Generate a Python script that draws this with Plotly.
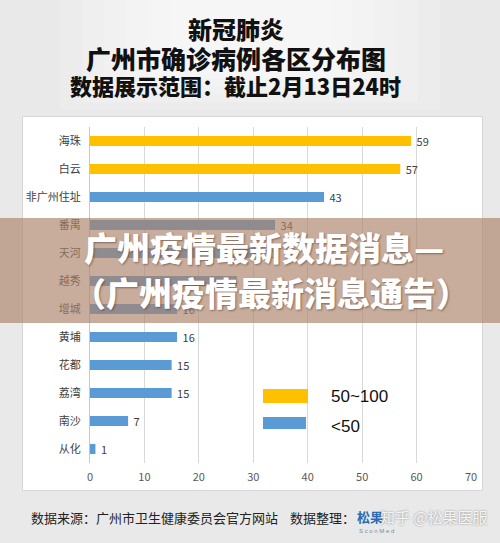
import plotly.graph_objects as go

categories = ["海珠", "白云", "非广州住址", "番禺", "天河", "越秀", "增城", "黄埔", "花都", "荔湾", "南沙", "从化"]
cases = [59, 57, 43, 34, 31, 27, 16, 16, 15, 15, 7, 1]
x_ticks = [0, 10, 20, 30, 40, 50, 60, 70]
legend_labels = ["50~100", "<50"]

YELLOW = "#ffc000"
BLUE = "#5b9bd5"
colors = [YELLOW if v >= 50 else BLUE for v in cases]

W, H = 500, 543
L, R, T, B = 90, 29, 127, 80
PW = W - L - R
PH = H - T - B


def px(xp):
    return (xp - L) / PW


def py(yp):
    return (H - B - yp) / PH


CJK = "Noto Sans CJK SC"

fig = go.Figure()
fig.add_trace(go.Bar(
    x=cases, y=categories, orientation="h",
    marker=dict(color=colors, line=dict(width=0)),
    text=["\u00a0" + str(v) for v in cases],
    textposition="outside",
    constraintext="none",
    textfont=dict(family=CJK, size=11, color="#404040"),
    cliponaxis=False,
    hoverinfo="skip",
))

shapes = []
# soft lighter area behind title
for i in range(6):
    shapes.append(dict(type="rect", xref="paper", yref="paper", layer="below",
                       x0=px(60 + i * 22), x1=px(440 - i * 22), y0=py(110 - i * 8), y1=py(0),
                       fillcolor="white", opacity=0.16, line=dict(width=0)))
# white chart panel
shapes.append(dict(type="rect", xref="paper", yref="paper", layer="below",
                   x0=px(22.5), x1=px(482.5), y0=py(490.5), y1=py(116.5),
                   fillcolor="white", line=dict(color="#d6d6d6", width=1)))
# legend swatches
shapes.append(dict(type="rect", xref="paper", yref="paper", layer="above",
                   x0=px(263), x1=px(308), y0=py(403), y1=py(389),
                   fillcolor=YELLOW, line=dict(width=0)))
shapes.append(dict(type="rect", xref="paper", yref="paper", layer="above",
                   x0=px(263), x1=px(306), y0=py(429), y1=py(417),
                   fillcolor=BLUE, line=dict(width=0)))
# translucent overlay band
shapes.append(dict(type="rect", xref="paper", yref="paper", layer="above",
                   x0=px(0), x1=px(W), y0=py(323), y1=py(218),
                   fillcolor="rgba(172,130,104,0.66)", line=dict(width=0)))

annotations = []


def ann(text, xp, yp, size, color="#000", family=CJK, xanchor="center", weight="normal", shadow=None):
    f = dict(family=family, size=size, color=color, weight=weight)
    if shadow:
        f["shadow"] = shadow
    annotations.append(dict(text=text, xref="paper", yref="paper", x=px(xp), y=py(yp),
                            xanchor=xanchor, yanchor="middle", showarrow=False, font=f))


ann("新冠肺炎", 236, 29, 24, "#111", weight=900)
ann("广州市确诊病例各区分布图", 236, 58, 25, "#111", weight=900)
ann("数据展示范围：截止2月13日24时", 235, 85, 22, "#111", weight=900)

ann(legend_labels[0], 329, 396, 17, "#111", family="Liberation Sans", xanchor="left")
ann(legend_labels[1], 329, 426, 17, "#111", family="Liberation Sans", xanchor="left")

ann("广州疫情最新数据消息—", 264, 247, 33, "white", weight=900, shadow="1px 1px 2px rgba(60,40,30,0.5)")
ann("（广州疫情最新消息通告）", 271, 292, 33, "white", weight=900, shadow="1px 1px 2px rgba(60,40,30,0.5)")

ann("数据来源：广州市卫生健康委员会官方网站", 29, 517, 13, "#222", xanchor="left")
ann("数据整理：", 288, 517, 13, "#222", xanchor="left")
ann("松果", 355, 516, 13, "#2b6cb5", xanchor="left", weight="bold")
ann("S c o n M e d", 357, 531, 6, "#7a8aa0", family="Liberation Sans", xanchor="left")
ann("知乎 @松果医服", 378, 516, 15, "rgba(255,255,255,0.9)", xanchor="left",
    shadow="0px 0px 2px rgba(90,90,90,0.8)")

fig.update_layout(
    width=W, height=H,
    margin=dict(l=L, r=R, t=T, b=B, pad=0, autoexpand=False),
    paper_bgcolor="#e9e9e9",
    plot_bgcolor="rgba(0,0,0,0)",
    showlegend=False,
    bargap=0.64,
    uniformtext=dict(mode=False),
    shapes=shapes,
    annotations=annotations,
    xaxis=dict(range=[0, 70], tickvals=x_ticks, showgrid=True, gridcolor="#d9d9d9", gridwidth=1,
               zeroline=False, showline=False, ticks="", automargin=False,
               tickfont=dict(family=CJK, size=11, color="#595959"), ticklabelstandoff=6,
               fixedrange=True),
    yaxis=dict(categoryorder="array", categoryarray=categories, autorange="reversed",
               showgrid=False, zeroline=False, showline=True, linecolor="#c8c8c8", linewidth=1,
               ticks="", automargin=False, tickfont=dict(family=CJK, size=11, color="#404040"),
               ticklabelstandoff=6, fixedrange=True),
)

fig.write_html("out.html", config={"displayModeBar": False},
               post_script="document.body.style.margin='0';document.body.style.overflow='hidden';")
